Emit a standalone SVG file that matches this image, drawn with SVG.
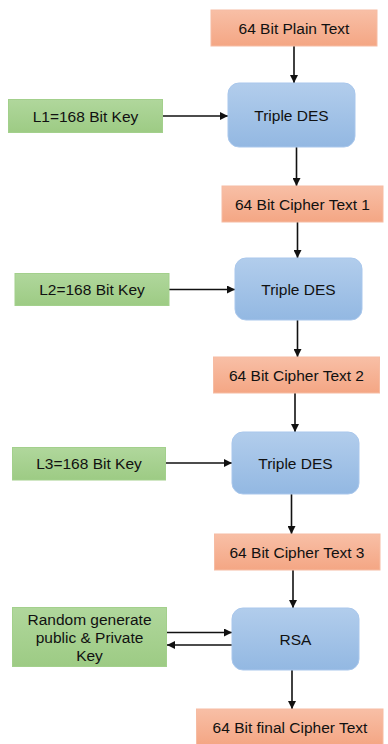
<svg xmlns="http://www.w3.org/2000/svg" width="388" height="744" viewBox="0 0 388 744">
<style>
.o{fill:url(#go);stroke:#F6BCA3;stroke-width:1}
.g{fill:url(#gg);stroke:#A3D08C;stroke-width:1}
.b{fill:url(#gb);stroke:#A9C7EC;stroke-width:1}
text{font-family:"Liberation Sans",Arial,sans-serif;font-size:15.5px;fill:#111;text-anchor:middle}
.c line{stroke:#111;stroke-width:1.6;marker-end:url(#ah)}
</style>
<defs>
<linearGradient id="go" x1="0" y1="0" x2="0" y2="1"><stop offset="0" stop-color="#F8BFA6"/><stop offset="1" stop-color="#F4A684"/></linearGradient>
<linearGradient id="gg" x1="0" y1="0" x2="0" y2="1"><stop offset="0" stop-color="#B0D79C"/><stop offset="1" stop-color="#9DCB84"/></linearGradient>
<linearGradient id="gb" x1="0" y1="0" x2="0" y2="1"><stop offset="0" stop-color="#B2CDEC"/><stop offset="1" stop-color="#93B8E2"/></linearGradient>
<marker id="ah" viewBox="0 0 10 10" refX="10" refY="5" markerWidth="5" markerHeight="5" orient="auto" markerUnits="strokeWidth"><path d="M0,0L10,5L0,10z" fill="#111"/></marker>
</defs>
<rect width="388" height="744" fill="#fff"/>
<g class="c" id="connectors">
<line x1="294" y1="46" x2="294" y2="83"/>
<line x1="162" y1="116" x2="228" y2="116"/>
<line x1="296.5" y1="147" x2="296.5" y2="186"/>
<line x1="297.5" y1="222" x2="297.5" y2="258"/>
<line x1="169" y1="289.5" x2="235" y2="289.5"/>
<line x1="297.5" y1="320" x2="297.5" y2="357"/>
<line x1="295" y1="393" x2="295" y2="432"/>
<line x1="166" y1="463" x2="232" y2="463"/>
<line x1="291.5" y1="494" x2="291.5" y2="534"/>
<line x1="293" y1="570" x2="293" y2="608"/>
<line x1="167" y1="632.5" x2="232" y2="632.5"/>
<line x1="232" y1="645" x2="167" y2="645"/>
<line x1="292" y1="670" x2="292" y2="709"/>
</g>
<g id="plain"><rect class="o" x="211" y="10" width="166" height="36"/><text x="294" y="33.5">64 Bit Plain Text</text></g>
<g id="des1"><rect class="b" x="228" y="83" width="127" height="64" rx="11"/><text x="291.5" y="120.5">Triple DES</text></g>
<g id="key1"><rect class="g" x="8.5" y="99.5" width="154" height="33"/><text x="85.5" y="121.5">L1=168 Bit Key</text></g>
<g id="c1"><rect class="o" x="222" y="186" width="161" height="36"/><text x="302.5" y="210">64 Bit Cipher Text 1</text></g>
<g id="des2"><rect class="b" x="235" y="258" width="127" height="62" rx="11"/><text x="298.5" y="294.5">Triple DES</text></g>
<g id="key2"><rect class="g" x="15" y="273.5" width="154" height="32"/><text x="92" y="295">L2=168 Bit Key</text></g>
<g id="c2"><rect class="o" x="213.5" y="357" width="166" height="36"/><text x="296.5" y="381">64 Bit Cipher Text 2</text></g>
<g id="des3"><rect class="b" x="232" y="432" width="127" height="62" rx="11"/><text x="295.5" y="468.5">Triple DES</text></g>
<g id="key3"><rect class="g" x="12.5" y="447.5" width="153" height="32.5"/><text x="89" y="469">L3=168 Bit Key</text></g>
<g id="c3"><rect class="o" x="214.5" y="534" width="165.5" height="36"/><text x="297" y="558">64 Bit Cipher Text 3</text></g>
<g id="rsa"><rect class="b" x="232" y="608" width="127" height="62" rx="11"/><text x="295.5" y="644.5">RSA</text></g>
<g id="rkey"><rect class="g" x="12.5" y="607.5" width="154" height="59"/><text x="89.5" y="625">Random generate</text><text x="89.5" y="643">public &amp; Private</text><text x="89.5" y="661">Key</text></g>
<g id="final"><rect class="o" x="196.5" y="709" width="186.5" height="36"/><text x="290" y="733">64 Bit final Cipher Text</text></g>
</svg>
